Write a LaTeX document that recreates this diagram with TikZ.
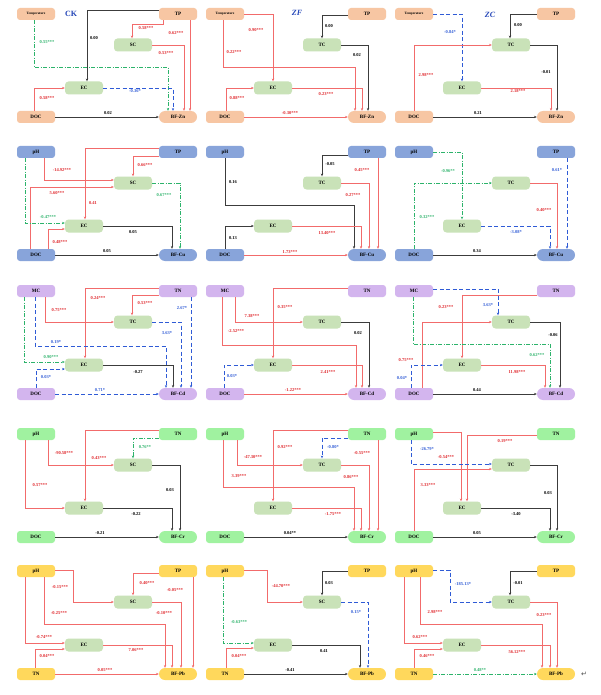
\documentclass[tikz,border=0pt]{standalone}
\usepackage{fontspec}
\setmainfont{Liberation Serif}
\newfontfamily\dejavu{DejaVu Sans}
\usetikzlibrary{arrows.meta}
\definecolor{cPe}{HTML}{F7C6A3}
\definecolor{cBl}{HTML}{88A4DA}
\definecolor{cLa}{HTML}{D3B5EE}
\definecolor{cGr}{HTML}{A0F2A0}
\definecolor{cYe}{HTML}{FFD85C}
\definecolor{cMid}{HTML}{C9E2B8}
\definecolor{lRed}{HTML}{F26B6B}
\definecolor{tRed}{HTML}{E0262B}
\definecolor{lBlu}{HTML}{2F5BD6}
\definecolor{lGrn}{HTML}{2DB36B}
\definecolor{lBlk}{HTML}{3C3C3C}
\definecolor{tTtl}{HTML}{2446B8}
\newcommand\smallnm{\fontsize{3.4}{3.6}\selectfont}
\newcounter{lc}
\newcommand\lab[3]{\stepcounter{lc}\node[#1] (lab\arabic{lc}) at (#2) {#3};}
\newcommand\mkpanel[9]{%
\node[onode,fill=#4] (A#1) at (#2,#3) {#5};
\node[onode,fill=#4] (B#1) at (#2+142,#3) {#6};
\node[mnode] (M#1) at (#2+97,#3+31) {#7};
\node[mnode] (E#1) at (#2+48,#3+74) {EC};
\node[onode,fill=#4] (D#1) at (#2,#3+103) {#8};
\node[fnode,fill=#4] (F#1) at (#2+142,#3+103) {#9};}
\tikzset{
 nbase/.style={inner sep=0pt, font=\fontsize{5}{6}\selectfont\bfseries, text=black},
 onode/.style={nbase, minimum width=38pt, minimum height=12pt, rounded corners=3pt},
 fnode/.style={nbase, minimum width=38pt, minimum height=12pt, rounded corners=6pt},
 mnode/.style={nbase, fill=cMid, minimum width=38pt, minimum height=13pt, rounded corners=3.5pt},
 conn/.style={line width=0.7pt, -{Stealth[length=2.8pt,width=2.4pt]}},
 eP/.style={conn, draw=lRed},
 eN/.style={conn, draw=lBlu, dash pattern=on 4pt off 2.5pt},
 eG/.style={conn, draw=lGrn, dash pattern=on 4pt off 1.5pt on 1pt off 1.5pt},
 eK/.style={conn, draw=lBlk},
 lbase/.style={inner sep=0.3pt, font=\fontsize{4.5}{5}\selectfont\bfseries},
 lP/.style={lbase, text=tRed},
 lN/.style={lbase, text=lBlu},
 lG/.style={lbase, text=lGrn},
 lK/.style={lbase, text=black},
 ttl/.style={font=\fontsize{8}{9}\selectfont\bfseries, text=tTtl, inner sep=0pt},
 ret/.style={font=\dejavu\fontsize{7}{8}\selectfont, text=black!70, inner sep=0pt}
}
\begin{document}
\begin{tikzpicture}[x=1pt,y=-1pt]
\useasboundingbox[fill=white] (0,0) rectangle (600,695);
\mkpanel{11}{36}{14}{cPe}{\smallnm Temperature}{TP}{SC}{DOC}{BF-Zn}
\mkpanel{12}{225}{14}{cPe}{\smallnm Temperature}{TP}{TC}{DOC}{BF-Zn}
\mkpanel{13}{414}{14}{cPe}{\smallnm Temperature}{TP}{TC}{DOC}{BF-Zn}
\mkpanel{21}{36}{152}{cBl}{pH}{TP}{SC}{DOC}{BF-Cu}
\mkpanel{22}{225}{152}{cBl}{pH}{TP}{TC}{DOC}{BF-Cu}
\mkpanel{23}{414}{152}{cBl}{pH}{TP}{TC}{DOC}{BF-Cu}
\mkpanel{31}{36}{291}{cLa}{MC}{TN}{TC}{DOC}{BF-Cd}
\mkpanel{32}{225}{291}{cLa}{MC}{TN}{TC}{DOC}{BF-Cd}
\mkpanel{33}{414}{291}{cLa}{MC}{TN}{TC}{DOC}{BF-Cd}
\mkpanel{41}{36}{434}{cGr}{pH}{TN}{SC}{DOC}{BF-Cr}
\mkpanel{42}{225}{434}{cGr}{pH}{TN}{TC}{DOC}{BF-Cr}
\mkpanel{43}{414}{434}{cGr}{pH}{TN}{TC}{DOC}{BF-Cr}
\mkpanel{51}{36}{571}{cYe}{pH}{TP}{SC}{TN}{BF-Pb}
\mkpanel{52}{225}{571}{cYe}{pH}{TP}{SC}{TN}{BF-Pb}
\mkpanel{53}{414}{571}{cYe}{pH}{TP}{TC}{TN}{BF-Pb}
\node[ttl] (tCK) at (71,14) {CK};
\node[ttl,font=\fontsize{8}{9}\selectfont\bfseries\itshape] (tZF) at (297,13) {ZF};
\node[ttl,font=\fontsize{8}{9}\selectfont\bfseries\itshape] (tZC) at (490,15) {ZC};
% ---- panel 11
\draw[eK] (B11.west |- 0,10) -- (87,10) -- (E11.north -| 87,0);
\lab{lK}{94,38}{0.00}
\draw[eP] (B11.south -| 163,0) -- (163,24) -- (132,24) -- (M11.north -| 132,0);
\lab{lP}{146,28}{0.58***}
\draw[eP] (B11.south -| 190,0) -- (F11.north -| 190,0);
\lab{lP}{176,33}{0.62***}
\draw[eP] (M11.east) -- (184,45) -- (F11.north -| 184,0);
\lab{lP}{166,53}{0.53***}
\draw[eG] (A11.south -| 34,0) -- (34,67) -- (168,67) -- (F11.north -| 168,0);
\lab{lG}{47,42}{0.55***}
\draw[eN] (E11.east) -- (173,88) -- (F11.north -| 173,0);
\lab{lN}{135,91}{-0.36*}
\draw[eP] (D11.north -| 34,0) -- (34,88) -- (E11.west);
\lab{lP}{47,98}{0.58***}
\draw[eK] (D11.east) -- (F11.west);
\lab{lK}{108,113}{0.02}
% ---- panel 12
\draw[eP] (A12.east) -- (273,14) -- (E12.north -| 273,0);
\lab{lP}{256,30}{0.90***}
\draw[eP] (A12.south -| 223,0) -- (223,67) -- (355,67) -- (F12.north -| 355,0);
\lab{lP}{234,52}{0.22***}
\draw[eK] (B12.west |- 0,15) -- (322,15) -- (M12.north);
\lab{lK}{329,26}{0.00}
\draw[eK] (M12.east) -- (368,45) -- (F12.north -| 368,0);
\lab{lK}{357,55}{0.02}
\draw[eP] (E12.east) -- (362,88) -- (F12.north -| 362,0);
\lab{lP}{326,94}{0.23***}
\draw[eP] (D12.north -| 226,0) -- (226,88) -- (E12.west);
\lab{lP}{237,98}{0.88***}
\draw[eP] (D12.east) -- (F12.west);
\lab{lP}{290,113}{-0.30***}
% ---- panel 13
\draw[eN] (A13.east) -- (462,14) -- (E13.north);
\lab{lN}{450,32}{-0.84*}
\draw[eK] (B13.west) -- (510,14) -- (M13.north -| 510,0);
\lab{lK}{518,25}{0.00}
\draw[eP] (D13.north) -- (414,45) -- (M13.west);
\lab{lP}{426,75}{2.98***}
\draw[eK] (M13.east) -- (557,45) -- (F13.north -| 557,0);
\lab{lK}{546,72}{-0.01}
\draw[eP] (E13.east) -- (551,88) -- (F13.north -| 551,0);
\lab{lP}{518,91}{2.18***}
\draw[eK] (D13.east) -- (F13.west);
\lab{lK}{478,113}{0.21}
% ---- panel 21
\draw[eP] (B21.west |- 0,148) -- (85,148) -- (E21.north -| 85,0);
\lab{lP}{93,203}{0.41}
\draw[eP] (B21.west |- 0,156) -- (133,156) -- (M21.north -| 133,0);
\lab{lP}{145,165}{0.66***}
\draw[eP] (A21.south -| 44,0) -- (44,180) -- (M21.west |- 0,180);
\lab{lP}{62,170}{-14.92***}
\draw[eP] (D21.north -| 30,0) -- (30,187) -- (M21.west |- 0,187);
\lab{lP}{57,193}{5.60***}
\draw[eG] (A21.south -| 25,0) -- (25,223) -- (E21.west |- 0,223);
\lab{lG}{48,217}{-0.47***}
\draw[eG] (M21.east) -- (180,183) -- (F21.north -| 180,0);
\lab{lG}{164,195}{0.67***}
\draw[eP] (D21.north -| 48,0) -- (48,229) -- (E21.west |- 0,229);
\lab{lP}{60,242}{0.48***}
\draw[eK] (E21.east) -- (172,226) -- (F21.north -| 172,0);
\lab{lK}{133,232}{0.05}
\draw[eK] (D21.east) -- (F21.west);
\lab{lK}{107,251}{0.05}
% ---- panel 22
\draw[eK] (A22.south) -- (225,205) -- (354,205) -- (F22.north -| 354,0);
\lab{lK}{233,182}{0.16}
\draw[eK] (B22.west |- 0,155) -- (322,155) -- (M22.north);
\lab{lK}{330,164}{-0.05}
\draw[eP] (B22.south -| 378,0) -- (F22.north -| 378,0);
\lab{lP}{362,170}{0.45***}
\draw[eP] (M22.east) -- (369,183) -- (F22.north -| 369,0);
\lab{lP}{353,195}{0.27***}
\draw[eK] (D22.north) -- (225,226) -- (E22.west);
\lab{lK}{233,238}{0.13}
\draw[eP] (E22.east) -- (361,226) -- (F22.north -| 361,0);
\lab{lP}{327,233}{13.40***}
\draw[eP] (D22.east) -- (F22.west);
\lab{lP}{290,252}{1.73***}
% ---- panel 23
\draw[eG] (A23.east) -- (462,152) -- (E23.north);
\lab{lG}{448,171}{-0.96**}
\draw[eG] (D23.north) -- (414,183) -- (M23.west);
\lab{lG}{427,217}{0.32***}
\draw[eP] (M23.east) -- (557,183) -- (F23.north -| 557,0);
\lab{lP}{544,210}{0.40***}
\draw[eN] (B23.south -| 567,0) -- (F23.north -| 567,0);
\lab{lN}{557,170}{0.61*}
\draw[eN] (E23.east) -- (550,226) -- (F23.north -| 550,0);
\lab{lN}{516,232}{-3.08*}
\draw[eK] (D23.east) -- (F23.west);
\lab{lK}{477,251}{0.34}
% ---- panel 31
\draw[eP] (B31.west |- 0,288) -- (85,288) -- (E31.north -| 85,0);
\lab{lP}{98,298}{0.24***}
\draw[eP] (B31.west |- 0,295) -- (132,295) -- (M31.north -| 132,0);
\lab{lP}{145,303}{0.53***}
\draw[eP] (A31.south -| 45,0) -- (45,322) -- (M31.west);
\lab{lP}{59,310}{0.75***}
\draw[eN] (M31.east) -- (181,322) -- (F31.north -| 181,0);
\lab{lN}{167,333}{3.63*}
\draw[eN] (B31.south -| 191,0) -- (F31.north -| 191,0);
\lab{lN}{182,308}{2.67*}
\draw[eN] (A31.south -| 35,0) -- (35,346) -- (166,346) -- (F31.north -| 166,0);
\lab{lN}{56,342}{0.19*}
\draw[eG] (A31.south -| 24,0) -- (24,362) -- (E31.west |- 0,362);
\lab{lG}{51,357}{0.90***}
\draw[eN] (D31.north -| 36,0) -- (36,369) -- (E31.west |- 0,369);
\lab{lN}{46,377}{0.03*}
\draw[eK] (E31.east) -- (173,365) -- (F31.north -| 173,0);
\lab{lK}{138,372}{-0.27}
\draw[eN] (D31.east) -- (F31.west);
\lab{lN}{100,390}{0.71*}
% ---- panel 32
\draw[eP] (B32.west |- 0,288) -- (273,288) -- (E32.north);
\lab{lP}{285,307}{0.35***}
\draw[eP] (A32.south -| 235,0) -- (235,322) -- (M32.west);
\lab{lP}{252,316}{7.38***}
\draw[eP] (A32.south -| 222,0) -- (222,345) -- (356,345) -- (F32.north -| 356,0);
\lab{lP}{236,331}{-2.52***}
\draw[eK] (M32.east) -- (369,322) -- (F32.north -| 369,0);
\lab{lK}{358,333}{0.02}
\draw[eN] (D32.north -| 224,0) -- (224,365) -- (E32.west);
\lab{lN}{232,376}{0.03*}
\draw[eP] (E32.east) -- (362,365) -- (F32.north -| 362,0);
\lab{lP}{328,372}{2.41***}
\draw[eP] (D32.east) -- (F32.west);
\lab{lP}{293,390}{-1.22***}
% ---- panel 33
\draw[eN] (A33.east |- 0,289) -- (498,289) -- (M33.north -| 498,0);
\lab{lN}{488,305}{3.63*}
\draw[eP] (B33.west |- 0,295) -- (462,295) -- (E33.north);
\lab{lP}{446,307}{0.23***}
\draw[eG] (A33.south -| 413,0) -- (413,344) -- (550,344) -- (F33.north -| 550,0);
\lab{lG}{537,355}{0.62***}
\draw[eP] (D33.north -| 422,0) -- (422,322) -- (M33.west);
\lab{lP}{406,360}{0.75***}
\draw[eN] (D33.north -| 411,0) -- (411,365) -- (E33.west);
\lab{lN}{402,378}{0.04*}
\draw[eK] (M33.east) -- (560,322) -- (F33.north -| 560,0);
\lab{lK}{553,335}{-0.06}
\draw[eP] (E33.east) -- (545,365) -- (F33.north -| 545,0);
\lab{lP}{517,372}{11.98***}
\draw[eK] (D33.east) -- (F33.west);
\lab{lK}{477,390}{0.44}
% ---- panel 41
\draw[eP] (B41.west |- 0,430) -- (85,430) -- (E41.north -| 85,0);
\lab{lP}{99,458}{0.43***}
\draw[eG] (B41.west |- 0,438) -- (133,438) -- (M41.north -| 133,0);
\lab{lG}{145,447}{0.76**}
\draw[eP] (A41.south -| 48,0) -- (48,465) -- (M41.west);
\lab{lP}{64,453}{-90.58***}
\draw[eP] (A41.south -| 25,0) -- (25,508) -- (E41.west);
\lab{lP}{40,485}{0.57***}
\draw[eK] (M41.east) -- (180,465) -- (F41.north -| 180,0);
\lab{lK}{170,490}{0.03}
\draw[eK] (E41.east) -- (172,508) -- (F41.north -| 172,0);
\lab{lK}{136,514}{-0.22}
\draw[eK] (D41.east) -- (F41.west);
\lab{lK}{100,533}{-0.21}
% ---- panel 42
\draw[eP] (A42.south -| 237,0) -- (237,465) -- (M42.west);
\lab{lP}{253,457}{-47.30***}
\draw[eP] (A42.south -| 223,0) -- (223,487) -- (354,487) -- (F42.north -| 354,0);
\lab{lP}{239,476}{3.39***}
\draw[eP] (B42.west |- 0,430) -- (273,430) -- (E42.north);
\lab{lP}{285,447}{0.92***}
\draw[eN] (B42.west |- 0,438) -- (322,438) -- (M42.north);
\lab{lN}{333,447}{-0.80*}
\draw[eP] (B42.south -| 378,0) -- (F42.north -| 378,0);
\lab{lP}{362,453}{-0.55***}
\draw[eP] (M42.east) -- (369,465) -- (F42.north -| 369,0);
\lab{lP}{351,477}{0.86***}
\draw[eP] (E42.east) -- (361,508) -- (F42.north -| 361,0);
\lab{lP}{333,514}{-1.75***}
\draw[eK] (D42.east) -- (F42.west);
\lab{lK}{290,533}{0.04**}
% ---- panel 43
\draw[eP] (A43.east |- 0,432) -- (461,432) -- (E43.north -| 461,0);
\lab{lP}{446,457}{-0.54***}
\draw[eP] (B43.west |- 0,435) -- (467,435) -- (E43.north -| 467,0);
\lab{lP}{505,441}{0.19***}
\draw[eN] (A43.south -| 411,0) -- (411,464) -- (M43.west |- 0,464);
\lab{lN}{427,449}{-26.79*}
\draw[eP] (D43.north -| 414,0) -- (414,469) -- (M43.west |- 0,469);
\lab{lP}{428,485}{3.33***}
\draw[eK] (M43.east) -- (557,465) -- (F43.north -| 557,0);
\lab{lK}{548,493}{0.03}
\draw[eK] (E43.east) -- (550,508) -- (F43.north -| 550,0);
\lab{lK}{516,514}{-3.40}
\draw[eK] (D43.east) -- (F43.west);
\lab{lK}{477,533}{0.05}
% ---- panel 51
\draw[eP] (A51.east |- 0,570) -- (73,570) -- (73,602) -- (M51.west);
\lab{lP}{60,587}{-0.15***}
\draw[eP] (A51.south -| 44,0) -- (44,624) -- (165,624) -- (F51.north -| 165,0);
\lab{lP}{59,613}{-0.25***}
\draw[eP] (A51.south -| 25,0) -- (25,643) -- (E51.west |- 0,643);
\lab{lP}{44,637}{-0.74***}
\draw[eP] (B51.west |- 0,573) -- (133,573) -- (M51.north -| 133,0);
\lab{lP}{147,583}{0.40***}
\draw[eP] (B51.south -| 193,0) -- (F51.north -| 193,0);
\lab{lP}{175,590}{-0.05***}
\draw[eP] (M51.east) -- (181,602) -- (F51.north -| 181,0);
\lab{lP}{164,613}{-0.10***}
\draw[eP] (D51.north -| 35,0) -- (35,649) -- (E51.west |- 0,649);
\lab{lP}{47,656}{0.04***}
\draw[eP] (E51.east) -- (172,645) -- (F51.north -| 172,0);
\lab{lP}{136,650}{7.06***}
\draw[eP] (D51.east) -- (F51.west);
\lab{lP}{105,670}{0.05***}
% ---- panel 52
\draw[eP] (A52.east |- 0,570) -- (267,570) -- (267,602) -- (M52.west);
\lab{lP}{281,586}{-44.70***}
\draw[eG] (A52.south -| 223,0) -- (223,643) -- (E52.west |- 0,643);
\lab{lG}{239,622}{-0.63***}
\draw[eK] (B52.west |- 0,571) -- (322,571) -- (M52.north);
\lab{lK}{329,583}{0.03}
\draw[eN] (M52.east) -- (368,602) -- (F52.north -| 368,0);
\lab{lN}{356,612}{0.15*}
\draw[eP] (D52.north -| 226,0) -- (226,648) -- (E52.west |- 0,648);
\lab{lP}{239,656}{0.04***}
\draw[eK] (E52.east) -- (360,645) -- (F52.north -| 360,0);
\lab{lK}{324,651}{0.41}
\draw[eK] (D52.east) -- (F52.west);
\lab{lK}{290,670}{-0.41}
% ---- panel 53
\draw[eN] (A53.east |- 0,570) -- (450,570) -- (450,602) -- (M53.west);
\lab{lN}{463,584}{-185.13*}
\draw[eP] (A53.south -| 404,0) -- (404,643) -- (E53.west |- 0,643);
\lab{lP}{420,637}{0.62***}
\draw[eP] (A53.south -| 420,0) -- (420,624) -- (542,624) -- (F53.north -| 542,0);
\lab{lP}{435,612}{2.98***}
\draw[eK] (B53.west |- 0,571) -- (510,571) -- (M53.north -| 510,0);
\lab{lK}{518,583}{-0.01}
\draw[eP] (M53.east) -- (557,602) -- (F53.north -| 557,0);
\lab{lP}{544,615}{0.23***}
\draw[eP] (D53.north -| 414,0) -- (414,649) -- (E53.west |- 0,649);
\lab{lP}{427,656}{0.46***}
\draw[eP] (E53.east) -- (550,645) -- (F53.north -| 550,0);
\lab{lP}{517,652}{56.12***}
\draw[eG] (D53.east) -- (F53.west);
\lab{lG}{480,670}{0.48**}
\node[ret] (retmark) at (584,674) {↵};
\end{tikzpicture}
\end{document}
